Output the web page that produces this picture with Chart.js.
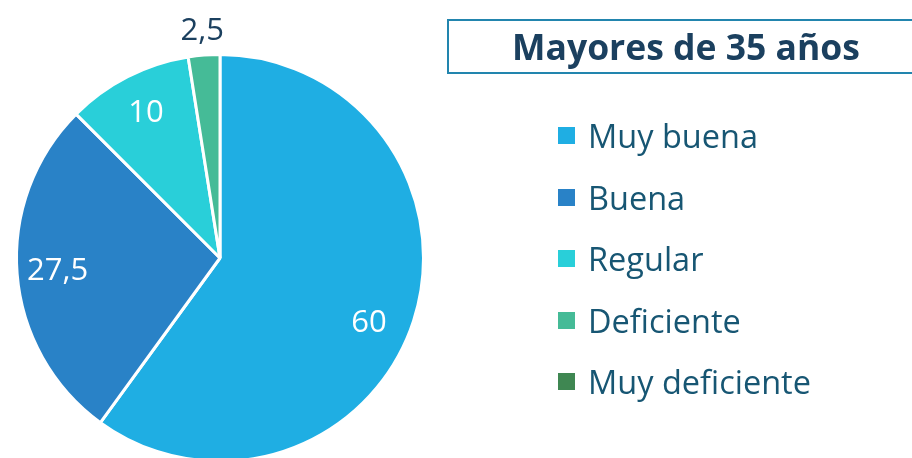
<!DOCTYPE html>
<html lang="es">
<head>
  <meta charset="UTF-8">
  <title>Mayores de 35 años</title>
  <style>
    html, body { margin: 0; padding: 0; background: #fff; overflow: hidden; width: 912px; height: 458px; }
    .wrap { position: relative; width: 912px; height: 458px; overflow: hidden; }
    #pie { position: absolute; left: 0; top: 0; }
    .title-box { position: absolute; left: 447px; top: 19px; width: 470px; height: 55px; border: 2px solid #2285AE; box-sizing: border-box;
      font-family: "Open Sans", sans-serif; font-weight: bold; font-size: 35.5px; color: #1B405F; text-align: center; line-height: 50px; padding-left: 8px; }
    .legend { position: absolute; left: 558px; top: 105px; font-family: "Open Sans", sans-serif; font-size: 32.5px; color: #175673; }
    .legend .item { height: 61.5px; display: flex; align-items: center; }
    .legend .box { width: 17px; height: 17px; margin-right: 13px; }
  </style>
</head>
<body>
  <div class="wrap">
    <canvas id="pie" width="912" height="520"></canvas>
    <div class="title-box" id="title"></div>
    <div class="legend" id="legend"></div>
  </div>

  <script src="https://cdn.jsdelivr.net/npm/chart.js"></script>
  <script>
    const title = 'Mayores de 35 años';
    const categories = ['Muy buena', 'Buena', 'Regular', 'Deficiente', 'Muy deficiente'];
    const values = [60, 27.5, 10, 2.5, 0];
    const valueLabels = ['60', '27,5', '10', '2,5', '0'];
    const colors = ['#1FAEE3', '#2982C7', '#29CFD9', '#45BB97', '#3F8752'];

    document.getElementById('title').textContent = title;
    const legend = document.getElementById('legend');
    categories.forEach(function (c, i) {
      const row = document.createElement('div');
      row.className = 'item';
      row.innerHTML = '<span class="box" style="background:' + colors[i] + '"></span><span>' + c + '</span>';
      legend.appendChild(row);
    });

    // draws the value on each slice, small slices get it outside
    const sliceLabels = {
      id: 'sliceLabels',
      afterDatasetsDraw(chart) {
        const ctx = chart.ctx;
        const meta = chart.getDatasetMeta(0);
        ctx.save();
        ctx.textAlign = 'center';
        ctx.textBaseline = 'middle';
        ctx.font = '31px "Open Sans", sans-serif';
        meta.data.forEach(function (arc, i) {
          if (!values[i]) return;
          const p = arc.getProps(['x', 'y', 'startAngle', 'endAngle', 'outerRadius'], true);
          let mid = (p.startAngle + p.endAngle) / 2;
          // big slice: excel pushes the label a bit further round
          if (values[i] > 50) mid += 0.1;
          let r = p.outerRadius * 0.8;
          ctx.fillStyle = '#ffffff';
          if (values[i] < 5) {
            r = p.outerRadius + 24;
            ctx.fillStyle = '#1B405F';
          }
          ctx.fillText(valueLabels[i], p.x + Math.cos(mid) * r, p.y + Math.sin(mid) * r);
        });
        ctx.restore();
      }
    };

    new Chart(document.getElementById('pie'), {
      type: 'pie',
      data: {
        labels: categories,
        datasets: [{
          data: values,
          backgroundColor: colors,
          borderColor: '#ffffff',
          borderWidth: 3
        }]
      },
      options: {
        responsive: false,
        animation: false,
        layout: { padding: { left: 15, top: 53, right: 487, bottom: 57 } },
        plugins: { legend: { display: false }, tooltip: { enabled: false } }
      },
      plugins: [sliceLabels]
    });
  </script>
</body>
</html>
